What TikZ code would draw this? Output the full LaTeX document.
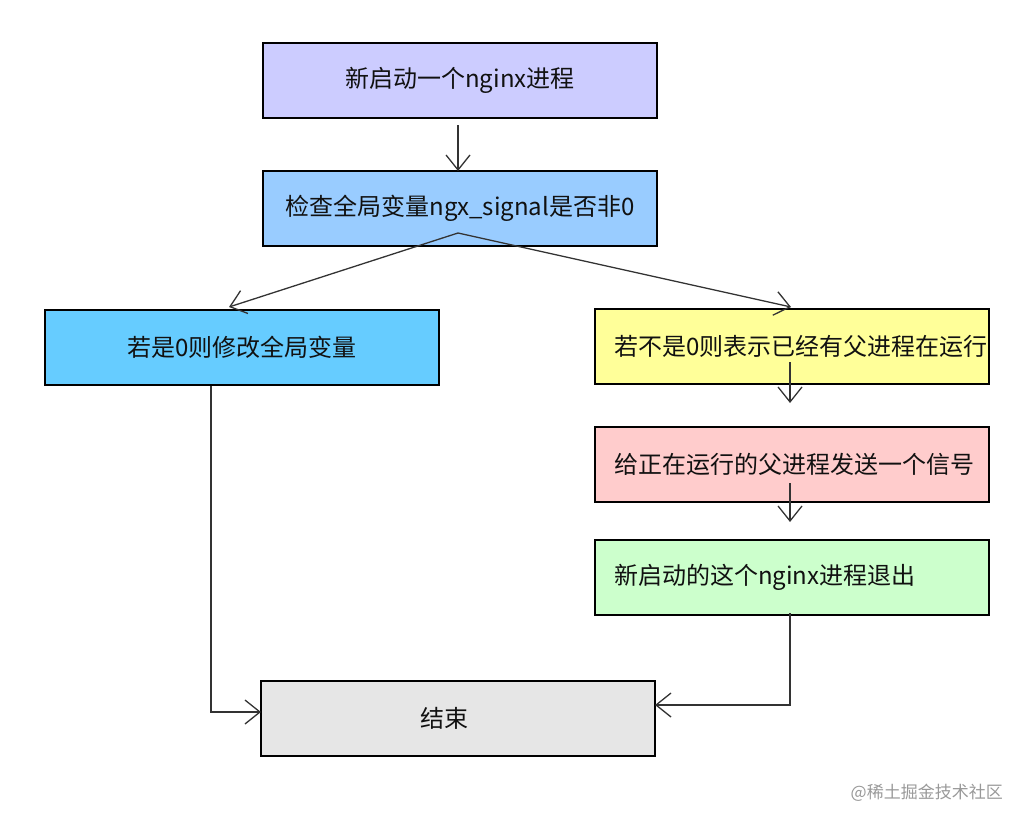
\documentclass[tikz,border=0pt]{standalone}
\usepackage{fontspec}
\setmainfont{Noto Sans CJK SC}
\usetikzlibrary{arrows.meta}
\definecolor{cA}{HTML}{CCCCFF}
\definecolor{cB}{HTML}{99CCFF}
\definecolor{cC}{HTML}{66CCFF}
\definecolor{cD}{HTML}{FFFF99}
\definecolor{cE}{HTML}{FFCCCC}
\definecolor{cF}{HTML}{CCFFCC}
\definecolor{cG}{HTML}{E6E6E6}
\definecolor{txt}{HTML}{111111}
\definecolor{ln}{HTML}{333333}
\begin{document}
\begin{tikzpicture}[x=1pt,y=-1pt,
  box/.style={draw=black,line width=2pt,minimum width=394pt,minimum height=75pt,inner sep=0pt,
    font=\fontsize{24}{28}\selectfont,text=txt},
  lbox/.style={box,inner xsep=19pt},
  conn/.style={draw=ln,line width=1.3pt,-{Straight Barb[length=15pt,width=24pt,line width=1.3pt]}}]
\useasboundingbox (0,0) rectangle (1024,824);
\node[box,fill=cA] (b1) at (460,80.5) {新启动一个nginx进程};
\node[box,fill=cB] (b2) at (460,208.5) {检查全局变量ngx\_signal是否非0};
\node[box,fill=cC] (b3) at (242,347.5) {若是0则修改全局变量};
\node[lbox,fill=cD] (b4) at (792,346.5) {\makebox[356pt][l]{若不是0则表示已经有父进程在运行}};
\node[lbox,fill=cE] (b5) at (792,464.5) {\makebox[356pt][l]{给正在运行的父进程发送一个信号}};
\node[lbox,fill=cF] (b6) at (792,577.5) {\makebox[356pt][l]{新启动的这个nginx进程退出}};
\node[box,fill=cG] (b7) at (458,718.5) {\hspace*{-28pt}结束};
\coordinate (s1) at (458,125);
\coordinate (e1) at (458,171);
\coordinate (s2) at (458,233);
\coordinate (e3) at (229,307);
\coordinate (e4) at (791,307);
\coordinate (s5) at (790,362);
\coordinate (e5) at (790,403);
\coordinate (s6) at (790,483);
\coordinate (e6) at (790,522);
\coordinate (s7) at (790,613);
\coordinate (k7) at (790,705);
\coordinate (e7) at (655,705);
\coordinate (s8) at (211,386);
\coordinate (k8) at (211,712);
\coordinate (e8) at (261,712);
\draw[conn] (s1) -- (e1);
\draw[conn] (s2) -- (e3);
\draw[conn] (s2) -- (e4);
\draw[conn] (s5) -- (e5);
\draw[conn] (s6) -- (e6);
\draw[conn] (s7) -- (k7) -- (e7);
\draw[conn] (s8) -- (k8) -- (e8);
\node[anchor=east,text=black!40,font=\fontsize{17}{20}\selectfont,inner sep=0pt] (wm) at (1003,793) {@稀土掘金技术社区};
\end{tikzpicture}
\end{document}
